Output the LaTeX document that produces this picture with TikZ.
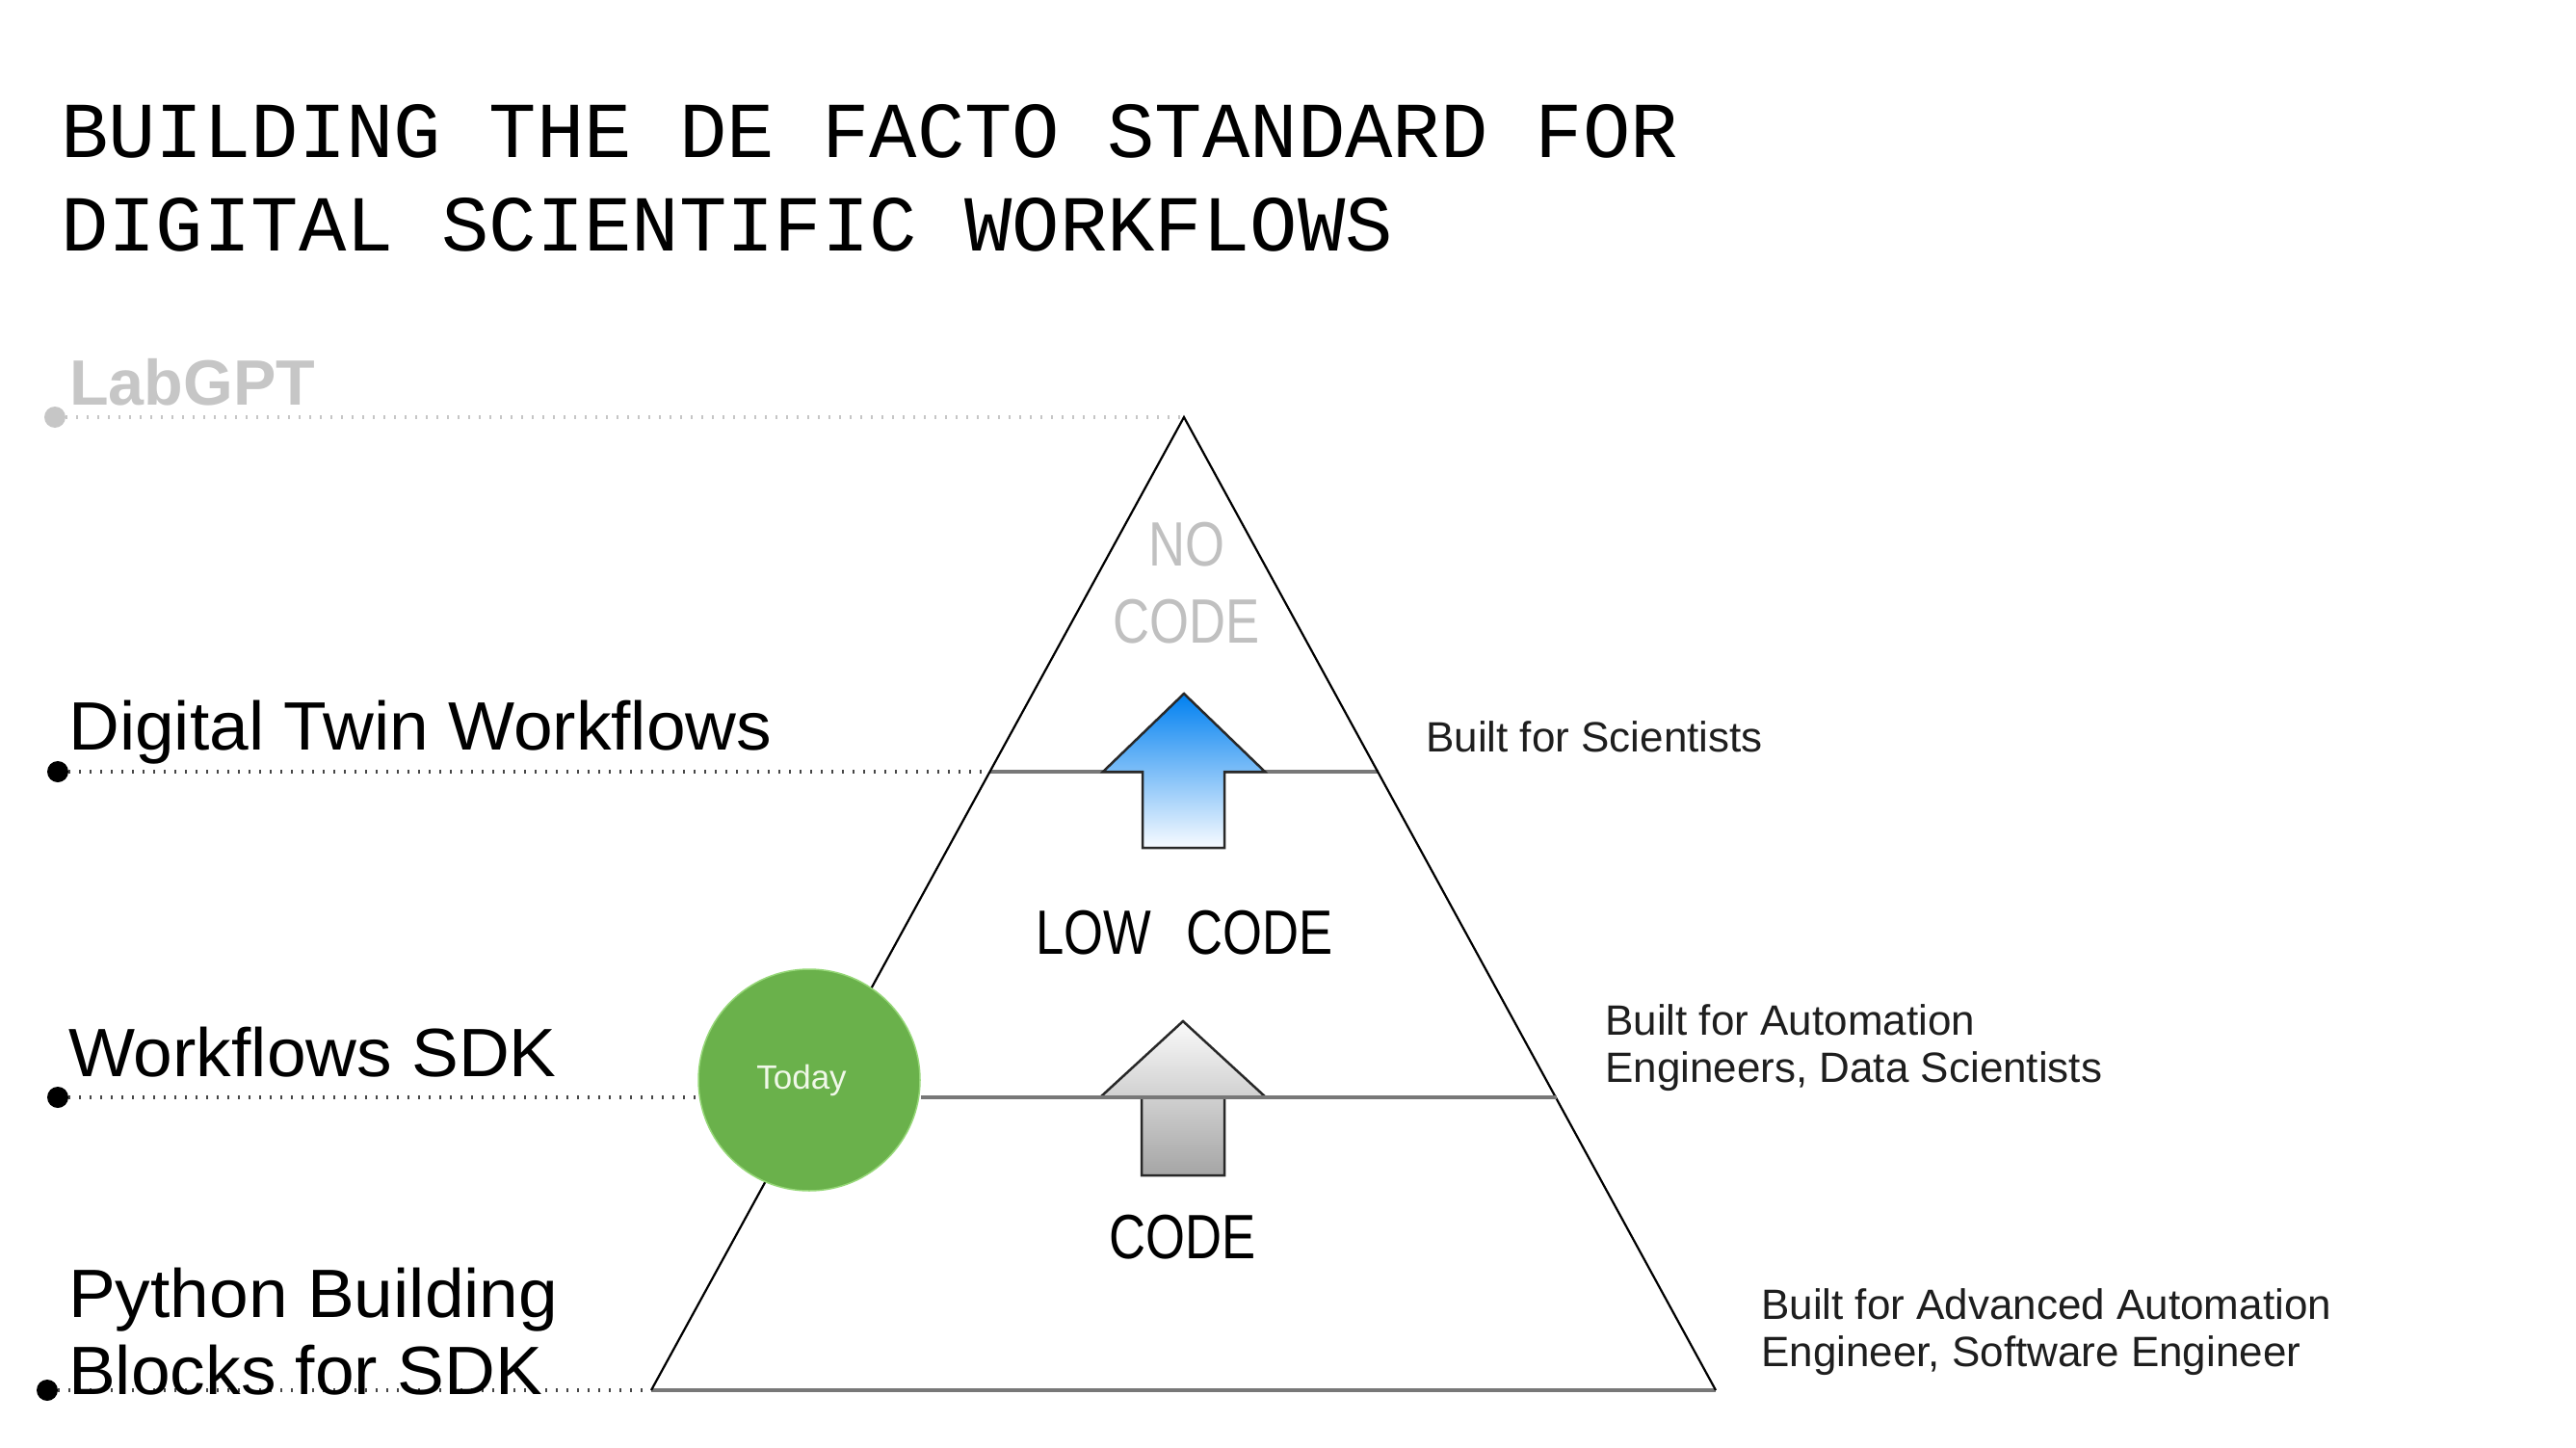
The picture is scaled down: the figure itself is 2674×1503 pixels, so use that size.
\documentclass[tikz,border=0pt]{standalone}
\usepackage{fontspec}
\setmainfont{Liberation Sans}
\newfontfamily\monofont{Liberation Mono}
\newfontfamily\narrowfont[FakeStretch=0.81]{Liberation Sans}
\newfontfamily\widefont[FakeStretch=1.03]{Liberation Sans}
\usetikzlibrary{calc}
\definecolor{labgray}{RGB}{198,198,198}
\definecolor{leadgray}{RGB}{70,70,70}
\definecolor{bandgray}{RGB}{120,120,120}
\definecolor{todaygreen}{RGB}{106,177,75}
\definecolor{todayrim}{RGB}{150,215,120}
\definecolor{todaytext}{RGB}{240,248,232}
\definecolor{nocode}{RGB}{192,192,192}
\definecolor{textdark}{RGB}{30,30,30}
\definecolor{arrowline}{RGB}{40,40,40}
\definecolor{bluetop}{RGB}{0,128,240}
\definecolor{bluebot}{RGB}{248,251,255}
\definecolor{graytop}{RGB}{250,250,250}
\definecolor{graybot}{RGB}{165,165,165}
\begin{document}
\begin{tikzpicture}[x=1pt,y=-1pt,
  lbl/.style={anchor=base west, inner sep=0pt, font=\widefont\fontsize{71}{80}\selectfont},
  rlbl/.style={anchor=base west, inner sep=0pt, text=textdark, font=\fontsize{44}{49}\selectfont},
  lvl/.style={anchor=base, inner sep=0pt, font=\narrowfont\fontsize{65}{80}\selectfont},
  dotmark/.style={circle, fill=#1, inner sep=0pt, minimum size=22pt},
  leader/.style={draw=#1, line width=4.5pt, dash pattern=on 1.8pt off 9.2pt},
  bandline/.style={draw=bandgray, line width=3.5pt},
  triedge/.style={draw=black, line width=2.2pt},
  arrowout/.style={draw=arrowline, line width=2.5pt, line join=miter},
]
\useasboundingbox (0,0) rectangle (2674,1503);
\fill[white] (0,0) rectangle (2674,1503);

% title
\node[anchor=base west, inner sep=0pt, font=\monofont\fontsize{82.3}{97}\selectfont] (title) at (63,164)
  {\begin{tabular}[t]{@{}l@{}}BUILDING THE DE FACTO STANDARD FOR\\DIGITAL SCIENTIFIC WORKFLOWS\end{tabular}};

% pyramid geometry
\coordinate (apex) at (1229,433);
\coordinate (bl) at (676,1443);
\coordinate (br) at (1781,1443);
\coordinate (t1l) at (1027.5,801);
\coordinate (t1r) at (1430.5,801);
\coordinate (t2r) at (1615.5,1139);

\draw[bandline] (t1l) -- (t1r);
\draw[bandline] (bl) -- (br);
\draw[triedge] (bl) -- (apex) -- (br);

% arrows
\shadedraw[arrowout, top color=bluetop, bottom color=bluebot]
  (1229,720) -- (1313,801) -- (1271,801) -- (1271,880) -- (1186,880) -- (1186,801) -- (1145,801) -- cycle;
\shadedraw[arrowout, top color=graytop, bottom color=graybot]
  (1228,1060) -- (1314,1139) -- (1271,1139) -- (1271,1220) -- (1185,1220) -- (1185,1139) -- (1142,1139) -- cycle;

% today circle
\node[circle, fill=todaygreen, draw=todayrim, line width=1.5pt, minimum size=230pt, inner sep=0pt,
      text=todaytext, font=\fontsize{35}{40}\selectfont] (today) at (840,1121) {\hspace*{-16pt}Today};
\draw[bandline] (today.east |- t2r) -- (t2r);

% dots and leaders
\node[dotmark=labgray] (dLab) at (57,433) {};
\node[dotmark=black] (dTwin) at (60,801) {};
\node[dotmark=black] (dSdk) at (60,1139) {};
\node[dotmark=black] (dPy) at (49,1443) {};
\draw[leader=labgray] (dLab) -- (apex);
\draw[leader=leadgray] (dTwin) -- (t1l);
\draw[leader=leadgray] (dSdk) -- (today.west |- dSdk);
\draw[leader=leadgray] (dPy) -- (bl);

% level texts
\node[lvl, text=nocode] (nocodetxt) at (1232,587) {\begin{tabular}[t]{@{}c@{}}NO\\CODE\end{tabular}};
\node[lvl] (lowcode) at (1229.5,990) {LOW\hspace{36pt}CODE};
\node[lvl] (codetxt) at (1228,1306) {CODE};

% left labels
\node[lbl, text=labgray, font=\bfseries\fontsize{66.5}{70}\selectfont] (lab) at (72,420) {LabGPT};
\node[lbl] (twin) at (71,778) {Digital Twin Workflows};
\node[lbl] (sdk) at (71,1117) {Workflows SDK};
\node[lbl] (py) at (71,1367) {\begin{tabular}[t]{@{}l@{}}Python Building\\Blocks for SDK\end{tabular}};

% right labels
\node[rlbl] (sci) at (1480,780) {Built for Scientists};
\node[rlbl] (auto) at (1666,1074) {\begin{tabular}[t]{@{}l@{}}Built for Automation\\Engineers, Data Scientists\end{tabular}};
\node[rlbl] (adv) at (1828,1369) {\begin{tabular}[t]{@{}l@{}}Built for Advanced Automation\\Engineer, Software Engineer\end{tabular}};
\end{tikzpicture}
\end{document}
